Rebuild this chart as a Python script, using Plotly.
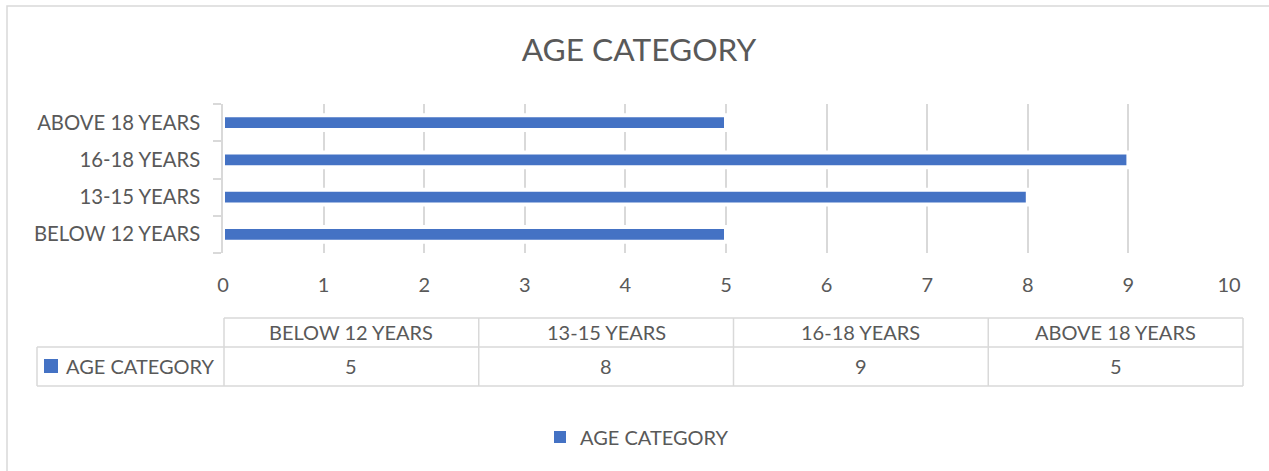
import plotly.graph_objects as go

# ---- data ----
categories = ["BELOW 12 YEARS", "13-15 YEARS", "16-18 YEARS", "ABOVE 18 YEARS"]
values = [5, 8, 9, 5]
series_name = "AGE CATEGORY"
title_text = "AGE CATEGORY"

# ---- style ----
BAR = "#4472C4"
TXT = "#595959"
GRID = "#D9D9D9"
FONT = "Lato"
W, H = 1269, 471
L, R, T, B = 223, 1229, 104, 253  # plot area in pixels


def px(x):
    return (x - L) / (R - L)


def py(y):
    return (B - y) / (B - T)


fig = go.Figure()
fig.add_trace(go.Bar(
    x=values, y=categories, orientation="h", name=series_name,
    marker=dict(color=BAR, line=dict(color="white", width=4)),
    width=0.4, hoverinfo="skip", showlegend=False, legendgroup="s",
))
# legend entry (same series, without the white outline)
fig.add_trace(go.Bar(
    x=[None], y=[None], orientation="h", name=series_name,
    marker=dict(color=BAR, line=dict(width=0)), hoverinfo="skip",
    showlegend=True, legendgroup="s",
))

shapes = []
annotations = []

# outer chart border
shapes.append(dict(type="rect", xref="paper", yref="paper",
                   x0=px(7), x1=px(W + 10), y0=py(6), y1=py(H + 10),
                   line=dict(color=GRID, width=1.5), fillcolor="rgba(0,0,0,0)", layer="below"))

# data table
tab_l, tab_r = 224, 1243
hdr_t, mid, bot = 318, 347, 386
leg_l = 37
n = len(categories)
colw = (tab_r - tab_l) / n
line = dict(color=GRID, width=1.5)
shapes.append(dict(type="line", xref="paper", yref="paper", x0=px(tab_l), x1=px(tab_r), y0=py(hdr_t), y1=py(hdr_t), line=line))
shapes.append(dict(type="line", xref="paper", yref="paper", x0=px(leg_l), x1=px(tab_r), y0=py(mid), y1=py(mid), line=line))
shapes.append(dict(type="line", xref="paper", yref="paper", x0=px(leg_l), x1=px(tab_r), y0=py(bot), y1=py(bot), line=line))
shapes.append(dict(type="line", xref="paper", yref="paper", x0=px(leg_l), x1=px(leg_l), y0=py(mid), y1=py(bot), line=line))
for i in range(n + 1):
    xx = tab_l + i * colw
    shapes.append(dict(type="line", xref="paper", yref="paper", x0=px(xx), x1=px(xx), y0=py(hdr_t), y1=py(bot), line=line))

cell_font = dict(family=FONT, size=20, color=TXT)
for i, (c, v) in enumerate(zip(categories, values)):
    cx = tab_l + (i + 0.5) * colw
    annotations.append(dict(xref="paper", yref="paper", x=px(cx), y=py((hdr_t + mid) / 2 - 1),
                            text=c, showarrow=False, font=cell_font, xanchor="center", yanchor="middle"))
    annotations.append(dict(xref="paper", yref="paper", x=px(cx), y=py((mid + bot) / 2 - 1),
                            text=str(v), showarrow=False, font=cell_font, xanchor="center", yanchor="middle"))
# legend key in table
shapes.append(dict(type="rect", xref="paper", yref="paper", x0=px(44), x1=px(58), y0=py(359), y1=py(373),
                   line=dict(width=0), fillcolor=BAR))
annotations.append(dict(xref="paper", yref="paper", x=px(64), y=py((mid + bot) / 2 - 1),
                        text=series_name, showarrow=False, font=cell_font, xanchor="left", yanchor="middle"))

fig.update_layout(
    width=W, height=H,
    margin=dict(l=L, r=W - R, t=T, b=H - B, autoexpand=False),
    paper_bgcolor="white", plot_bgcolor="white",
    font=dict(family=FONT, color=TXT),
    title=dict(text=title_text, xref="container", yref="container", x=639 / W, y=1 - 50 / H,
               xanchor="center", yanchor="middle", font=dict(family=FONT, size=31.7, color=TXT)),
    xaxis=dict(range=[0, 10], dtick=1, tick0=0, showgrid=True, gridcolor=GRID, gridwidth=1.5,
               zeroline=False, showline=False, ticks="", ticklabelstandoff=18,
               tickfont=dict(family=FONT, size=20, color=TXT), fixedrange=True),
    yaxis=dict(type="category", showline=True, linecolor=GRID, linewidth=1.5,
               ticks="outside", tickson="boundaries", ticklen=8, tickcolor=GRID, tickwidth=1.5,
               showgrid=False, zeroline=False, ticklabelstandoff=17,
               tickfont=dict(family=FONT, size=20.3, color=TXT), fixedrange=True),
    showlegend=True,
    legend=dict(orientation="h", xref="paper", yref="paper", x=px(637), y=py(437),
                xanchor="center", yanchor="middle", font=dict(family=FONT, size=20, color=TXT),
                bgcolor="rgba(0,0,0,0)"),
    shapes=shapes, annotations=annotations,
)

fig.write_html("out.html")
